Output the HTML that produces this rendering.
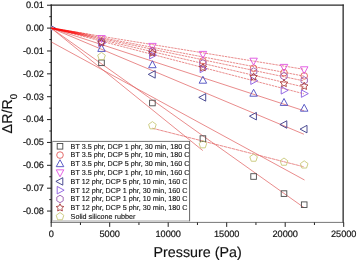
<!DOCTYPE html><html><head><meta charset="utf-8"><style>html,body{margin:0;padding:0;background:#fff;width:357px;height:261px;overflow:hidden}svg{display:block}</style></head><body>
<svg width="357" height="261" viewBox="0 0 357 261" style="will-change:transform" text-rendering="geometricPrecision" font-family='"Liberation Sans", sans-serif'>
<rect width="357" height="261" fill="#fff"/>
<defs><clipPath id="pc"><rect x="51.3" y="5.2" width="291.8" height="217.1"/></clipPath><linearGradient id="wg" gradientUnits="userSpaceOnUse" x1="51" y1="0" x2="96" y2="0"><stop offset="0" stop-color="#ff0000" stop-opacity="1"/><stop offset="0.55" stop-color="#ff1010" stop-opacity="0.8"/><stop offset="1" stop-color="#f03030" stop-opacity="0"/></linearGradient><clipPath id="pc2"><rect x="51.35" y="5.2" width="291.8" height="217.1"/></clipPath></defs>
<line x1="50.6" y1="5.2" x2="343.8" y2="5.2" stroke="#2a2a2a" stroke-width="1.3"/>
<line x1="51.25" y1="4.6" x2="51.25" y2="222.9" stroke="#222" stroke-width="1.3"/>
<line x1="343.15" y1="4.6" x2="343.15" y2="222.9" stroke="#2a2a2a" stroke-width="1.3"/>
<line x1="51.2" y1="222.4" x2="343.2" y2="222.4" stroke="#666" stroke-width="0.9"/>
<g clip-path="url(#pc2)"><polygon points="55.52,28.10 48.59,24.35 48.59,31.85" fill="#fff" stroke="#4a3a90" stroke-width="0.9"/></g>
<g clip-path="url(#pc)">
<line x1="51.20" y1="28.10" x2="303.90" y2="69.29" stroke="#e26666" stroke-width="0.75" stroke-dasharray="2.4,0.8" stroke-dashoffset="0.0"/>
<line x1="51.20" y1="28.10" x2="303.90" y2="76.11" stroke="#e26666" stroke-width="0.75" stroke-dasharray="2.4,0.8" stroke-dashoffset="0.6"/>
<line x1="51.20" y1="28.10" x2="303.90" y2="80.91" stroke="#e26666" stroke-width="0.75" stroke-dasharray="2.4,0.8" stroke-dashoffset="1.2"/>
<line x1="51.20" y1="28.10" x2="303.90" y2="86.98" stroke="#e26666" stroke-width="0.75" stroke-dasharray="2.4,0.8" stroke-dashoffset="1.8"/>
<line x1="51.20" y1="28.10" x2="303.90" y2="93.80" stroke="#e26666" stroke-width="0.75" stroke-dasharray="2.4,0.8" stroke-dashoffset="2.4"/>
<line x1="51.20" y1="28.10" x2="303.90" y2="110.73" stroke="#e26666" stroke-width="0.75"/>
<line x1="51.20" y1="28.10" x2="303.90" y2="134.23" stroke="#e26666" stroke-width="0.75"/>
<line x1="51.20" y1="28.10" x2="303.90" y2="207.52" stroke="#e26666" stroke-width="0.75"/>
<line x1="51.20" y1="28.10" x2="202.80" y2="150.59" stroke="#e26666" stroke-width="0.75"/>
<line x1="51.4" y1="42" x2="304.5" y2="180" stroke="#e26666" stroke-width="0.75"/>
<polyline points="152.3,128.2 303.9,166.8" fill="none" stroke="#e26666" stroke-width="0.75" stroke-dasharray="3.6,0.5"/>
<polygon points="51.2,27.3 96,35.04 96,38.85 51.2,28.9" fill="url(#wg)"/>
<rect x="98.70" y="60.00" width="5.6" height="5.6" fill="none" stroke="#4a4a4a" stroke-width="0.9"/>
<rect x="149.60" y="100.20" width="5.6" height="5.6" fill="none" stroke="#4a4a4a" stroke-width="0.9"/>
<rect x="200.10" y="135.80" width="5.6" height="5.6" fill="none" stroke="#4a4a4a" stroke-width="0.9"/>
<rect x="250.80" y="173.70" width="5.6" height="5.6" fill="none" stroke="#4a4a4a" stroke-width="0.9"/>
<rect x="281.20" y="190.80" width="5.6" height="5.6" fill="none" stroke="#4a4a4a" stroke-width="0.9"/>
<rect x="301.40" y="201.90" width="5.6" height="5.6" fill="none" stroke="#4a4a4a" stroke-width="0.9"/>
<circle cx="101.50" cy="41.10" r="3.3" fill="none" stroke="#e05a5a" stroke-width="0.9"/>
<circle cx="152.40" cy="50.60" r="3.3" fill="none" stroke="#e05a5a" stroke-width="0.9"/>
<circle cx="202.90" cy="61.00" r="3.3" fill="none" stroke="#e05a5a" stroke-width="0.9"/>
<circle cx="253.60" cy="68.30" r="3.3" fill="none" stroke="#e05a5a" stroke-width="0.9"/>
<circle cx="284.00" cy="72.70" r="3.3" fill="none" stroke="#e05a5a" stroke-width="0.9"/>
<circle cx="304.20" cy="75.90" r="3.3" fill="none" stroke="#e05a5a" stroke-width="0.9"/>
<polygon points="101.50,44.48 105.25,51.41 97.75,51.41" fill="none" stroke="#4b4bc0" stroke-width="0.9"/>
<polygon points="152.40,60.78 156.15,67.71 148.65,67.71" fill="none" stroke="#4b4bc0" stroke-width="0.9"/>
<polygon points="202.90,76.28 206.65,83.21 199.15,83.21" fill="none" stroke="#4b4bc0" stroke-width="0.9"/>
<polygon points="253.60,89.28 257.35,96.21 249.85,96.21" fill="none" stroke="#4b4bc0" stroke-width="0.9"/>
<polygon points="284.00,98.48 287.75,105.41 280.25,105.41" fill="none" stroke="#4b4bc0" stroke-width="0.9"/>
<polygon points="304.20,104.28 307.95,111.21 300.45,111.21" fill="none" stroke="#4b4bc0" stroke-width="0.9"/>
<polygon points="101.50,42.52 105.25,35.59 97.75,35.59" fill="none" stroke="#e050e0" stroke-width="0.9"/>
<polygon points="152.40,50.32 156.15,43.39 148.65,43.39" fill="none" stroke="#e050e0" stroke-width="0.9"/>
<polygon points="202.90,58.32 206.65,51.39 199.15,51.39" fill="none" stroke="#e050e0" stroke-width="0.9"/>
<polygon points="253.60,65.12 257.35,58.19 249.85,58.19" fill="none" stroke="#e050e0" stroke-width="0.9"/>
<polygon points="284.00,71.33 287.75,64.39 280.25,64.39" fill="none" stroke="#e050e0" stroke-width="0.9"/>
<polygon points="304.20,73.73 307.95,66.79 300.45,66.79" fill="none" stroke="#e050e0" stroke-width="0.9"/>
<polygon points="148.28,74.40 155.21,70.65 155.21,78.15" fill="none" stroke="#3a3a88" stroke-width="0.9"/>
<polygon points="198.78,97.40 205.71,93.65 205.71,101.15" fill="none" stroke="#3a3a88" stroke-width="0.9"/>
<polygon points="249.47,116.20 256.41,112.45 256.41,119.95" fill="none" stroke="#3a3a88" stroke-width="0.9"/>
<polygon points="279.88,124.50 286.81,120.75 286.81,128.25" fill="none" stroke="#3a3a88" stroke-width="0.9"/>
<polygon points="300.07,129.10 307.01,125.35 307.01,132.85" fill="none" stroke="#3a3a88" stroke-width="0.9"/>
<polygon points="105.62,42.90 98.69,39.15 98.69,46.65" fill="none" stroke="#8a5ae0" stroke-width="0.9"/>
<polygon points="156.53,55.20 149.59,51.45 149.59,58.95" fill="none" stroke="#8a5ae0" stroke-width="0.9"/>
<polygon points="207.03,68.90 200.09,65.15 200.09,72.65" fill="none" stroke="#8a5ae0" stroke-width="0.9"/>
<polygon points="257.73,80.70 250.79,76.95 250.79,84.45" fill="none" stroke="#8a5ae0" stroke-width="0.9"/>
<polygon points="288.12,90.30 281.19,86.55 281.19,94.05" fill="none" stroke="#8a5ae0" stroke-width="0.9"/>
<polygon points="308.32,93.60 301.39,89.85 301.39,97.35" fill="none" stroke="#8a5ae0" stroke-width="0.9"/>
<polygon points="101.50,45.60 98.30,43.75 98.30,40.05 101.50,38.20 104.70,40.05 104.70,43.75" fill="none" stroke="#9a5ab0" stroke-width="0.9"/>
<polygon points="152.40,55.10 149.20,53.25 149.20,49.55 152.40,47.70 155.60,49.55 155.60,53.25" fill="none" stroke="#9a5ab0" stroke-width="0.9"/>
<polygon points="202.90,67.10 199.70,65.25 199.70,61.55 202.90,59.70 206.10,61.55 206.10,65.25" fill="none" stroke="#9a5ab0" stroke-width="0.9"/>
<polygon points="253.60,75.20 250.40,73.35 250.40,69.65 253.60,67.80 256.80,69.65 256.80,73.35" fill="none" stroke="#9a5ab0" stroke-width="0.9"/>
<polygon points="284.00,79.90 280.80,78.05 280.80,74.35 284.00,72.50 287.20,74.35 287.20,78.05" fill="none" stroke="#9a5ab0" stroke-width="0.9"/>
<polygon points="304.20,84.10 301.00,82.25 301.00,78.55 304.20,76.70 307.40,78.55 307.40,82.25" fill="none" stroke="#9a5ab0" stroke-width="0.9"/>
<polygon points="101.50,38.60 102.68,40.98 105.30,41.36 103.40,43.22 103.85,45.84 101.50,44.60 99.15,45.84 99.60,43.22 97.70,41.36 100.32,40.98" fill="none" stroke="#a83a3a" stroke-width="0.9"/>
<polygon points="152.40,48.90 153.58,51.28 156.20,51.66 154.30,53.52 154.75,56.14 152.40,54.90 150.05,56.14 150.50,53.52 148.60,51.66 151.22,51.28" fill="none" stroke="#a83a3a" stroke-width="0.9"/>
<polygon points="202.90,63.60 204.08,65.98 206.70,66.36 204.80,68.22 205.25,70.84 202.90,69.60 200.55,70.84 201.00,68.22 199.10,66.36 201.72,65.98" fill="none" stroke="#a83a3a" stroke-width="0.9"/>
<polygon points="253.60,72.90 254.78,75.28 257.40,75.66 255.50,77.52 255.95,80.14 253.60,78.90 251.25,80.14 251.70,77.52 249.80,75.66 252.42,75.28" fill="none" stroke="#a83a3a" stroke-width="0.9"/>
<polygon points="284.00,79.40 285.18,81.78 287.80,82.16 285.90,84.02 286.35,86.64 284.00,85.40 281.65,86.64 282.10,84.02 280.20,82.16 282.82,81.78" fill="none" stroke="#a83a3a" stroke-width="0.9"/>
<polygon points="304.20,82.20 305.38,84.58 308.00,84.96 306.10,86.82 306.55,89.44 304.20,88.20 301.85,89.44 302.30,86.82 300.40,84.96 303.02,84.58" fill="none" stroke="#a83a3a" stroke-width="0.9"/>
<polygon points="101.50,52.40 105.30,55.16 103.85,59.64 99.15,59.64 97.70,55.16" fill="none" stroke="#c8c878" stroke-width="0.9"/>
<polygon points="152.40,121.60 156.20,124.36 154.75,128.84 150.05,128.84 148.60,124.36" fill="none" stroke="#c8c878" stroke-width="0.9"/>
<polygon points="202.90,140.60 206.70,143.36 205.25,147.84 200.55,147.84 199.10,143.36" fill="none" stroke="#c8c878" stroke-width="0.9"/>
<polygon points="253.60,154.00 257.40,156.76 255.95,161.24 251.25,161.24 249.80,156.76" fill="none" stroke="#c8c878" stroke-width="0.9"/>
<polygon points="284.00,158.00 287.80,160.76 286.35,165.24 281.65,165.24 280.20,160.76" fill="none" stroke="#c8c878" stroke-width="0.9"/>
<polygon points="304.20,160.80 308.00,163.56 306.55,168.04 301.85,168.04 300.40,163.56" fill="none" stroke="#c8c878" stroke-width="0.9"/>
</g>
<rect x="52" y="141" width="137.6" height="80.3" fill="#fff"/>
<line x1="52" y1="141.4" x2="190.1" y2="141.4" stroke="#777" stroke-width="1"/>
<line x1="52.4" y1="141" x2="52.4" y2="221.3" stroke="#aaa" stroke-width="0.9"/>
<line x1="52" y1="221.0" x2="189.6" y2="221.0" stroke="#c4c4c4" stroke-width="1.4"/>
<line x1="189.6" y1="141" x2="189.6" y2="221.3" stroke="#666" stroke-width="1"/>
<rect x="57.20" y="143.50" width="5.6" height="5.6" fill="none" stroke="#4a4a4a" stroke-width="0.9"/>
<text x="70.6" y="148.60" font-size="7.2" fill="#111" stroke="#111" stroke-width="0.12">BT 3.5 phr, DCP 1 phr, 30 min, 180 C</text>
<circle cx="60.00" cy="155.08" r="3.3" fill="none" stroke="#e05a5a" stroke-width="0.9"/>
<text x="70.6" y="157.38" font-size="7.2" fill="#111" stroke="#111" stroke-width="0.12">BT 3.5 phr, DCP 5 phr, 10 min, 180 C</text>
<polygon points="60.00,159.74 63.75,166.67 56.25,166.67" fill="none" stroke="#4b4bc0" stroke-width="0.9"/>
<text x="70.6" y="166.16" font-size="7.2" fill="#111" stroke="#111" stroke-width="0.12">BT 3.5 phr, DCP 5 phr, 30 min, 160 C</text>
<polygon points="60.00,176.77 63.75,169.83 56.25,169.83" fill="none" stroke="#e050e0" stroke-width="0.9"/>
<text x="70.6" y="174.94" font-size="7.2" fill="#111" stroke="#111" stroke-width="0.12">BT 3.5 phr, DCP 1 phr, 10 min, 160 C</text>
<polygon points="55.88,181.42 62.81,177.67 62.81,185.17" fill="none" stroke="#3a3a88" stroke-width="0.9"/>
<text x="70.6" y="183.72" font-size="7.2" fill="#111" stroke="#111" stroke-width="0.12">BT 12 phr, DCP 5 phr, 10 min, 160 C</text>
<polygon points="64.12,190.20 57.19,186.45 57.19,193.95" fill="none" stroke="#8a5ae0" stroke-width="0.9"/>
<text x="70.6" y="192.50" font-size="7.2" fill="#111" stroke="#111" stroke-width="0.12">BT 12 phr, DCP 1 phr, 30 min, 160 C</text>
<polygon points="60.00,202.68 56.80,200.83 56.80,197.13 60.00,195.28 63.20,197.13 63.20,200.83" fill="none" stroke="#9a5ab0" stroke-width="0.9"/>
<text x="70.6" y="201.28" font-size="7.2" fill="#111" stroke="#111" stroke-width="0.12">BT 12 phr, DCP 1 phr, 10 min, 180 C</text>
<polygon points="60.00,203.76 61.18,206.14 63.80,206.52 61.90,208.38 62.35,211.00 60.00,209.76 57.65,211.00 58.10,208.38 56.20,206.52 58.82,206.14" fill="none" stroke="#a83a3a" stroke-width="0.9"/>
<text x="70.6" y="210.06" font-size="7.2" fill="#111" stroke="#111" stroke-width="0.12">BT 12 phr, DCP 5 phr, 30 min, 180 C</text>
<polygon points="60.00,212.54 63.80,215.30 62.35,219.78 57.65,219.78 56.20,215.30" fill="none" stroke="#c8c878" stroke-width="0.9"/>
<text x="70.6" y="218.84" font-size="7.2" fill="#111" stroke="#111" stroke-width="0.12">Solid silicone rubber</text>
<line x1="47.0" y1="211.06" x2="51.4" y2="211.06" stroke="#222" stroke-width="1"/>
<text x="43.9" y="213.96" font-size="9.2" text-anchor="end" fill="#111" stroke="#111" stroke-width="0.18">-0.08</text>
<line x1="49.3" y1="199.62" x2="51.4" y2="199.62" stroke="#222" stroke-width="1"/>
<line x1="47.0" y1="188.19" x2="51.4" y2="188.19" stroke="#222" stroke-width="1"/>
<text x="43.9" y="191.09" font-size="9.2" text-anchor="end" fill="#111" stroke="#111" stroke-width="0.18">-0.07</text>
<line x1="49.3" y1="176.75" x2="51.4" y2="176.75" stroke="#222" stroke-width="1"/>
<line x1="47.0" y1="165.32" x2="51.4" y2="165.32" stroke="#222" stroke-width="1"/>
<text x="43.9" y="168.22" font-size="9.2" text-anchor="end" fill="#111" stroke="#111" stroke-width="0.18">-0.06</text>
<line x1="49.3" y1="153.88" x2="51.4" y2="153.88" stroke="#222" stroke-width="1"/>
<line x1="47.0" y1="142.45" x2="51.4" y2="142.45" stroke="#222" stroke-width="1"/>
<text x="43.9" y="145.35" font-size="9.2" text-anchor="end" fill="#111" stroke="#111" stroke-width="0.18">-0.05</text>
<line x1="49.3" y1="131.01" x2="51.4" y2="131.01" stroke="#222" stroke-width="1"/>
<line x1="47.0" y1="119.58" x2="51.4" y2="119.58" stroke="#222" stroke-width="1"/>
<text x="43.9" y="122.48" font-size="9.2" text-anchor="end" fill="#111" stroke="#111" stroke-width="0.18">-0.04</text>
<line x1="49.3" y1="108.15" x2="51.4" y2="108.15" stroke="#222" stroke-width="1"/>
<line x1="47.0" y1="96.71" x2="51.4" y2="96.71" stroke="#222" stroke-width="1"/>
<text x="43.9" y="99.61" font-size="9.2" text-anchor="end" fill="#111" stroke="#111" stroke-width="0.18">-0.03</text>
<line x1="49.3" y1="85.28" x2="51.4" y2="85.28" stroke="#222" stroke-width="1"/>
<line x1="47.0" y1="73.84" x2="51.4" y2="73.84" stroke="#222" stroke-width="1"/>
<text x="43.9" y="76.74" font-size="9.2" text-anchor="end" fill="#111" stroke="#111" stroke-width="0.18">-0.02</text>
<line x1="49.3" y1="62.41" x2="51.4" y2="62.41" stroke="#222" stroke-width="1"/>
<line x1="47.0" y1="50.97" x2="51.4" y2="50.97" stroke="#222" stroke-width="1"/>
<text x="43.9" y="53.87" font-size="9.2" text-anchor="end" fill="#111" stroke="#111" stroke-width="0.18">-0.01</text>
<line x1="49.3" y1="39.54" x2="51.4" y2="39.54" stroke="#222" stroke-width="1"/>
<line x1="47.0" y1="28.10" x2="51.4" y2="28.10" stroke="#222" stroke-width="1"/>
<text x="43.9" y="31.00" font-size="9.2" text-anchor="end" fill="#111" stroke="#111" stroke-width="0.18">0.00</text>
<line x1="49.3" y1="16.66" x2="51.4" y2="16.66" stroke="#222" stroke-width="1"/>
<line x1="47.0" y1="5.23" x2="51.4" y2="5.23" stroke="#222" stroke-width="1"/>
<text x="43.9" y="8.13" font-size="9.2" text-anchor="end" fill="#111" stroke="#111" stroke-width="0.18">0.01</text>
<line x1="51.20" y1="222.4" x2="51.20" y2="226.9" stroke="#222" stroke-width="1"/>
<text x="51.20" y="237.1" font-size="9.2" text-anchor="middle" fill="#111" stroke="#111" stroke-width="0.18">0</text>
<line x1="80.45" y1="222.4" x2="80.45" y2="225.0" stroke="#222" stroke-width="1"/>
<line x1="109.70" y1="222.4" x2="109.70" y2="226.9" stroke="#222" stroke-width="1"/>
<text x="109.70" y="237.1" font-size="9.2" text-anchor="middle" fill="#111" stroke="#111" stroke-width="0.18">5000</text>
<line x1="138.95" y1="222.4" x2="138.95" y2="225.0" stroke="#222" stroke-width="1"/>
<line x1="168.20" y1="222.4" x2="168.20" y2="226.9" stroke="#222" stroke-width="1"/>
<text x="168.20" y="237.1" font-size="9.2" text-anchor="middle" fill="#111" stroke="#111" stroke-width="0.18">10000</text>
<line x1="197.45" y1="222.4" x2="197.45" y2="225.0" stroke="#222" stroke-width="1"/>
<line x1="226.70" y1="222.4" x2="226.70" y2="226.9" stroke="#222" stroke-width="1"/>
<text x="226.70" y="237.1" font-size="9.2" text-anchor="middle" fill="#111" stroke="#111" stroke-width="0.18">15000</text>
<line x1="255.95" y1="222.4" x2="255.95" y2="225.0" stroke="#222" stroke-width="1"/>
<line x1="285.20" y1="222.4" x2="285.20" y2="226.9" stroke="#222" stroke-width="1"/>
<text x="285.20" y="237.1" font-size="9.2" text-anchor="middle" fill="#111" stroke="#111" stroke-width="0.18">20000</text>
<line x1="314.45" y1="222.4" x2="314.45" y2="225.0" stroke="#222" stroke-width="1"/>
<line x1="343.70" y1="222.4" x2="343.70" y2="226.9" stroke="#222" stroke-width="1"/>
<text x="343.70" y="237.1" font-size="9.2" text-anchor="middle" fill="#111" stroke="#111" stroke-width="0.18">25000</text>
<text x="197.6" y="257.4" font-size="14.3" text-anchor="middle" fill="#111" stroke="#111" stroke-width="0.15">Pressure (Pa)</text>
<text transform="translate(12.2,133.4) rotate(-90)" font-size="14.3" fill="#111" stroke="#111" stroke-width="0.15">ΔR/R<tspan font-size="9.8" dy="5">0</tspan></text>
</svg></body></html>
